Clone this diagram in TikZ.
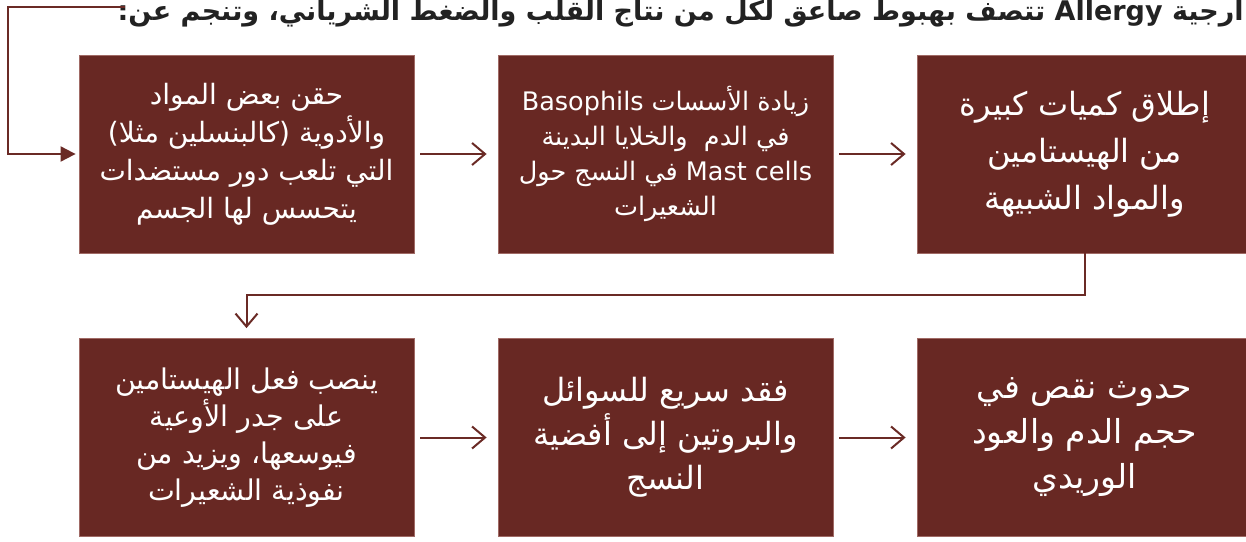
\documentclass[tikz,border=0pt]{standalone}
\usepackage{fontspec}
\usetikzlibrary{arrows.meta,calc}
\newfontfamily\arabicfont[Script=Arabic]{DejaVu Sans}
\newfontfamily\arabicbold[Script=Arabic]{DejaVu Sans Bold}
\TeXXeTstate=1
\definecolor{boxred}{HTML}{682823}
\definecolor{boxedge}{HTML}{A06A65}
\definecolor{linered}{HTML}{6A2A25}
\definecolor{titlegray}{HTML}{222222}
\begin{document}
\begin{tikzpicture}[x=1pt,y=-1pt,
  box/.style={fill=boxred, draw=boxedge, line width=0.8pt, minimum width=335pt,
    minimum height=198pt, text=white, align=center, inner sep=0pt},
  conn/.style={draw=linered, line width=2pt},
  barb/.style={-{Straight Barb[length=13pt,width=22pt,line width=2pt]}}
]
\useasboundingbox (0,0) rectangle (1246,541);
\node[anchor=base east, text=titlegray, font=\arabicbold\fontsize{27}{32}\selectfont, inner sep=0pt]
  (title) at (1244,20) {\beginR ارجية \beginL Allergy\endL{} تتصف بهبوط صاعق لكل من نتاج القلب والضغط الشرياني، وتنجم عن:\endR};

\node[box, font=\arabicfont\fontsize{28}{38}\selectfont] (b1) at (246.5,154) {%
  \beginR حقن بعض المواد\endR\\
  \beginR والأدوية (كالبنسلين مثلا)\endR\\
  \beginR التي تلعب دور مستضدات\endR\\
  \beginR يتحسس لها الجسم\endR};
\node[box, font=\arabicfont\fontsize{25.5}{35}\selectfont] (b2) at (665.5,154) {%
  \beginR زيادة الأسسات \beginL Basophils\endL\endR\\
  \beginR في الدم\ \ والخلايا البدينة\endR\\
  \beginR \beginL Mast cells\endL{} في النسج حول\endR\\
  \beginR الشعيرات\endR};
\node[box, font=\arabicfont\fontsize{32}{47}\selectfont] (b3) at (1084.5,154) {%
  \beginR إطلاق كميات كبيرة\endR\\
  \beginR من الهيستامين\endR\\
  \beginR والمواد الشبيهة\endR};

\node[box, font=\arabicfont\fontsize{28.5}{37}\selectfont] (b4) at (246.5,437.5) {%
  \beginR ينصب فعل الهيستامين\endR\\
  \beginR على جدر الأوعية\endR\\
  \beginR فيوسعها، ويزيد من\endR\\
  \beginR نفوذية الشعيرات\endR};
\node[box, font=\arabicfont\fontsize{32}{44}\selectfont] (b5) at (665.5,437.5) {%
  \beginR فقد سريع للسوائل\endR\\
  \beginR والبروتين إلى أفضية\endR\\
  \beginR النسج\endR};
\node[box, font=\arabicfont\fontsize{33}{45}\selectfont] (b6) at (1084.5,437.5) {%
  \beginR حدوث نقص في\endR\\
  \beginR حجم الدم والعود\endR\\
  \beginR الوريدي\endR};

\coordinate (start) at (125,7);
\coordinate (corner) at (8,7);
\draw[conn, -{Triangle[length=15pt,width=15pt]}, shorten >=3pt] (start) -- (corner) |- (b1.west);
\draw[conn, barb, shorten <=6pt, shorten >=11pt] (b1.east) -- (b2.west);
\draw[conn, barb, shorten <=6pt, shorten >=11pt] (b2.east) -- (b3.west);
\draw[conn, barb, shorten >=10pt] (b3.south) -- ++(0,42) -| (b4.north);
\draw[conn, barb, shorten <=6pt, shorten >=11pt] (b4.east) -- (b5.west);
\draw[conn, barb, shorten <=6pt, shorten >=11pt] (b5.east) -- (b6.west);
\end{tikzpicture}
\end{document}
